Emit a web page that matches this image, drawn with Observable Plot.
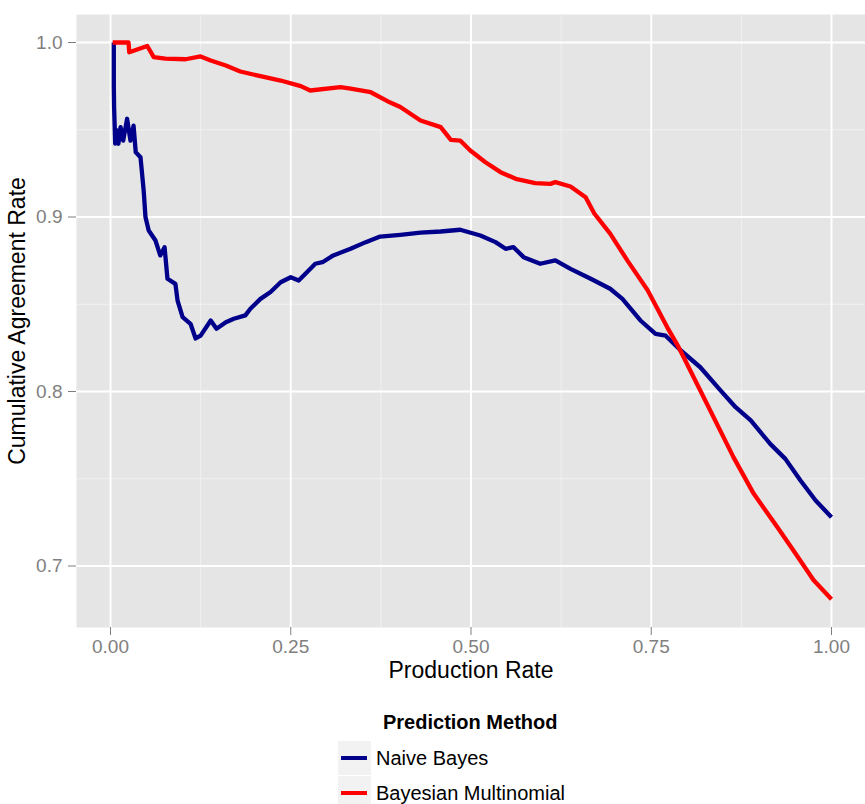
<!DOCTYPE html>
<html><head><meta charset="utf-8">
<script src="https://cdn.jsdelivr.net/npm/d3@7"></script>
<script src="https://cdn.jsdelivr.net/npm/@observablehq/plot@0.6"></script>
<style>
body{margin:0;background:#fff;font-family:"Liberation Sans",Arial,sans-serif;}
#wrap{position:relative;width:865px;height:804px;overflow:hidden;}
#chart svg g[aria-label="x-axis label"] text,
#chart svg g[aria-label="y-axis label"] text{font-size:23px;fill:#000;}
.lg-title{position:absolute;left:383px;top:711px;font-weight:bold;font-size:20px;color:#000;white-space:nowrap;}
.lg-key{position:absolute;left:338px;width:33px;height:34px;background:#f2f2f2;}
.lg-key span{position:absolute;left:3px;right:4px;top:15px;height:4px;}
.lg-lab{position:absolute;left:376px;font-size:20px;color:#000;white-space:nowrap;line-height:20px;}
</style>
</head><body>
<div id="wrap"><div id="chart"></div><div id="legend"></div></div>
<script>
const methods = ["Naive Bayes", "Bayesian Multinomial"];
const colors = ["#00008B", "#FF0000"];

const naiveX = [0.0046,0.0046,0.005,0.0065,0.009,0.011,0.014,0.0176,0.023,0.0277,0.032,0.035,0.0416,0.046,0.0485,0.053,0.0624,0.069,0.075,0.079,0.090,0.093,0.1,0.111,0.118,0.125,0.139,0.147,0.16,0.171,0.187,0.194,0.208,0.222,0.236,0.25,0.261,0.27,0.284,0.294,0.309,0.333,0.354,0.374,0.402,0.43,0.458,0.485,0.513,0.534,0.548,0.559,0.573,0.596,0.617,0.638,0.666,0.693,0.71,0.735,0.756,0.77,0.791,0.818,0.846,0.867,0.888,0.915,0.936,0.957,0.978,1.0];
const naiveY = [1.0,0.975,0.963,0.942,0.9496,0.942,0.9515,0.9438,0.9563,0.9438,0.9524,0.9371,0.9343,0.9152,0.900,0.8923,0.8865,0.878,0.8827,0.8646,0.8617,0.8521,0.8426,0.8388,0.8304,0.832,0.8407,0.836,0.8397,0.8417,0.8436,0.8474,0.8531,0.857,0.8626,0.8655,0.8636,0.8674,0.8732,0.8741,0.878,0.8818,0.8856,0.8888,0.8898,0.891,0.8917,0.8927,0.8894,0.8856,0.8818,0.8827,0.877,0.8732,0.8751,0.8703,0.8646,0.8589,0.8531,0.8407,0.833,0.832,0.8235,0.8139,0.8006,0.791,0.7834,0.77,0.7614,0.749,0.7375,0.728];

const multX = [0.003,0.025,0.026,0.051,0.06,0.076,0.104,0.125,0.139,0.16,0.18,0.208,0.236,0.264,0.277,0.319,0.333,0.361,0.388,0.402,0.43,0.458,0.472,0.485,0.499,0.52,0.541,0.562,0.589,0.61,0.617,0.638,0.659,0.671,0.693,0.717,0.745,0.772,0.788,0.818,0.864,0.892,0.925,0.947,0.975,1.0];
const multY = [1.0,1.0,0.9944,0.998,0.9916,0.9908,0.9904,0.992,0.9897,0.9868,0.9834,0.9807,0.9782,0.975,0.9725,0.9744,0.9736,0.9715,0.9656,0.963,0.9553,0.9515,0.9442,0.9438,0.9381,0.9314,0.9257,0.9219,0.9194,0.919,0.92,0.9175,0.9113,0.902,0.8905,0.875,0.858,0.8369,0.8254,0.8006,0.7624,0.7415,0.7222,0.709,0.692,0.681];

const xTicks = [0, 0.25, 0.5, 0.75, 1];
const xMinor = [0.125, 0.375, 0.625, 0.875];
const yTicks = [0.7, 0.8, 0.9, 1.0];
const yMinor = [0.75, 0.85, 0.95];

const rows = [
  ...naiveX.map((x, i) => ({method: methods[0], x, y: naiveY[i]})),
  ...multX.map((x, i) => ({method: methods[1], x, y: multY[i]}))
];

const chart = Plot.plot({
  width: 865, height: 700,
  marginTop: 14, marginBottom: 73, marginLeft: 76, marginRight: 0,
  style: {fontFamily: "'Liberation Sans', Arial, sans-serif", fontSize: "19px", background: "white", overflow: "visible"},
  x: {domain: [-0.04716, 1.04716]},
  y: {domain: [0.66476, 1.01605]},
  color: {domain: methods, range: colors},
  marks: [
    Plot.frame({fill: "#e5e5e5", stroke: null}),
    Plot.ruleX(xMinor, {stroke: "#f2f2f2", strokeWidth: 0.9}),
    Plot.ruleY(yMinor, {stroke: "#f2f2f2", strokeWidth: 0.9}),
    Plot.ruleX(xTicks, {stroke: "#ffffff", strokeWidth: 1.9}),
    Plot.ruleY(yTicks, {stroke: "#ffffff", strokeWidth: 1.9}),
    Plot.line(rows, {x: "x", y: "y", z: "method", stroke: "method", strokeWidth: 4.3, strokeLinejoin: "round", strokeLinecap: "butt"}),
    Plot.axisX(xTicks, {tickSize: 8, tickPadding: 4, tickFormat: d => d.toFixed(2), stroke: "#7f7f7f", fill: "#7f7f7f",
      label: "Production Rate", labelAnchor: "center", labelArrow: "none", labelOffset: 50}),
    Plot.axisY(yTicks, {tickSize: 8, tickPadding: 6, tickFormat: d => d.toFixed(1), stroke: "#7f7f7f", fill: "#7f7f7f",
      label: "Cumulative Agreement Rate", labelAnchor: "center", labelArrow: "none", labelOffset: 68})
  ]
});
document.getElementById("chart").appendChild(chart);

const lg = d3.select("#legend");
lg.append("div").attr("class", "lg-title").text("Prediction Method");
methods.forEach((m, i) => {
  const top = 741 + i * 35;
  lg.append("div").attr("class", "lg-key").style("top", top + "px")
    .append("span").style("background", colors[i]);
  lg.append("div").attr("class", "lg-lab").style("top", (top + 7) + "px").text(m);
});
</script>
</body></html>
